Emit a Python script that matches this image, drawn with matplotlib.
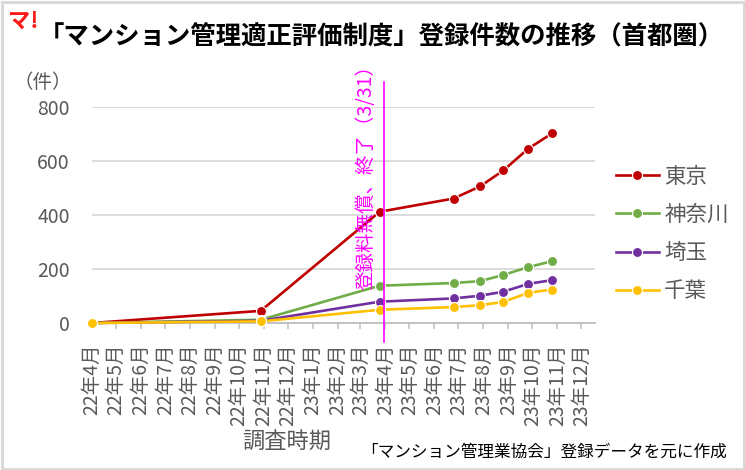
import matplotlib
matplotlib.use("Agg")
import matplotlib.pyplot as plt
import matplotlib.dates as mdates
import matplotlib.transforms as mtransforms
from matplotlib.patches import Rectangle
import numpy as np
import datetime as dt

plt.rcParams['font.family'] = ['Noto Sans CJK JP', 'DejaVu Sans']

# ---- data ----
dates = ["2022-04-01", "2022-10-28", "2023-03-25", "2023-06-25",
         "2023-07-28", "2023-08-26", "2023-09-26", "2023-10-26"]
tokyo = [0, 45, 412, 461, 506, 565, 646, 703]
kanagawa = [0, 12, 138, 148, 155, 178, 207, 229]
saitama = [0, 8, 79, 91, 101, 116, 145, 159]
chiba = [0, 6, 49, 59, 66, 78, 112, 124]
series_names = ["東京", "神奈川", "埼玉", "千葉"]
series_colors = ["#C00000", "#70AD47", "#7030A0", "#FFC000"]
event_date = "2023-03-31"
event_label = "登録料無償、終了（3/31）"
title = "「マンション管理適正評価制度」登録件数の推移（首都圏）"
source_note = "「マンション管理業協会」登録データを元に作成"
xlabel = "調査時期"
ylabel = "（件）"
yticks = [0, 200, 400, 600, 800]
tick_start = "2022-04-01"
n_months = 21
xmax_date = "2023-12-18"

x = [np.datetime64(d) for d in dates]
month_ticks = [dt.date(2022 + (3 + i) // 12, (3 + i) % 12 + 1, 1) for i in range(n_months)]
tick_labels = [f"{d.year % 100}年{d.month}月" for d in month_ticks]

W, H = 745, 470
fig = plt.figure(figsize=(W / 100, H / 100), dpi=100)
fig.patch.set_facecolor("white")

# border
fig.patches.append(Rectangle((1.5 / W, 1.5 / H), 1 - 3 / W, 1 - 3 / H,
                             transform=fig.transFigure, fill=False,
                             edgecolor="#D9D9D9", linewidth=2.2))

ax = fig.add_axes([92 / W, (H - 323) / H, (595 - 92) / W, (323 - 107) / H])
ax.set_facecolor("white")

for vals, name, col in zip([tokyo, kanagawa, saitama, chiba], series_names, series_colors):
    ax.plot(x, vals, color=col, lw=1.9, marker="o", ms=7.2, mfc=col,
            mec="white", mew=0.8, label=name, clip_on=False, zorder=3)

ax.set_ylim(0, 800)
ax.set_yticks(yticks)
ax.set_xlim(np.datetime64(tick_start), np.datetime64(xmax_date))
ax.set_xticks([np.datetime64(d) for d in month_ticks])
ax.set_xticklabels(tick_labels, rotation=90, ha="center", va="top")

ax.grid(axis="y", color="#D9D9D9", lw=1.3)
ax.set_axisbelow(True)
for s in ["left", "right", "top"]:
    ax.spines[s].set_visible(False)
ax.spines["bottom"].set_color("#BFBFBF")
ax.spines["bottom"].set_linewidth(1.3)
ax.tick_params(axis="y", length=0, pad=16, labelsize=14, labelcolor="#595959")
ax.tick_params(axis="x", length=4.5, width=1.1, color="#BFBFBF", pad=10,
               labelsize=14, labelcolor="#595959")

# event line + label
ev = np.datetime64(event_date)
ax.axvline(ev, ymin=-0.088, ymax=1.116, color="#FF00FF", lw=1.2, clip_on=False, zorder=4)
trans = mtransforms.offset_copy(ax.get_xaxis_transform(), fig=fig, x=-13, y=0, units="points")
ax.text(ev, 0.153, event_label, transform=trans, rotation=90, ha="center", va="bottom",
        color="#FF00FF", fontsize=14, zorder=5)

# legend
leg = ax.legend(loc="center left", bbox_to_anchor=(605 / W, (H - 234) / H),
                bbox_transform=fig.transFigure, frameon=False, fontsize=15.5,
                handlelength=2.0, handletextpad=0.25, labelspacing=0.75,
                borderpad=0)
for t in leg.get_texts():
    t.set_color("#595959")

# texts
fig.text(381 / W, 1 - 37 / H, title, ha="center", va="center", fontsize=18.3,
         fontweight="bold", color="black")
fig.text(8 / W, 1 - 21 / H, "マ!", ha="left", va="center", fontsize=16,
         fontweight="bold", color="#FF1A1A", style="italic")
fig.text(43 / W, 1 - 82 / H, ylabel, ha="center", va="center", fontsize=14, color="#595959")
fig.text(287 / W, 1 - 441 / H, xlabel, ha="center", va="center", fontsize=16, color="#595959")
fig.text(727 / W, 1 - 452 / H, source_note, ha="right", va="center", fontsize=12, color="black")

fig.savefig("out.png", dpi=100, facecolor="white")
